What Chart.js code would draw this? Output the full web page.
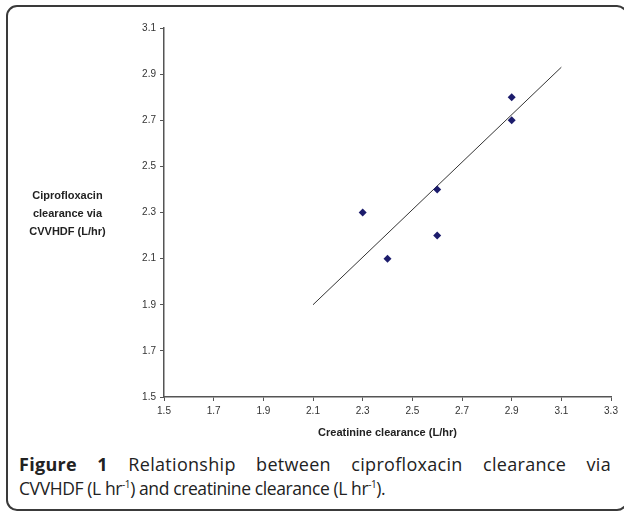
<!DOCTYPE html>
<html>
<head>
<meta charset="utf-8">
<script src="https://cdn.jsdelivr.net/npm/chart.js@4"></script>
<style>
    body { margin: 0; background: #fff; width: 624px; height: 516px; overflow: hidden; position: relative; }
    #frame { position: absolute; left: 6px; top: 5px; width: 622px; height: 506px; border: 2px solid #3a3a3a; border-radius: 11px; box-sizing: border-box; }
    #chartWrap { position: absolute; left: 0; top: 0; width: 624px; height: 445px; }
    #yTitle { position: absolute; left: 10px; top: 186px; width: 115px; text-align: center; font: bold 11px Arial, "Liberation Sans", sans-serif; line-height: 18px; color: #222; }
    #caption { position: absolute; left: 19px; top: 452px; width: 592px; font-family: "Open Sans", sans-serif; font-size: 18px; line-height: 24px; color: #222; }
    #caption .l1 { text-align: justify; text-align-last: justify; letter-spacing: 0.3px; }
    #caption .l2 { text-align: left; font-size: 17.5px; letter-spacing: -0.4px; }
    #caption b { font-weight: 700; }
    #caption sup { font-size: 10px; line-height: 0; }
</style>
</head>
<body>
<div id="frame"></div>
<div id="chartWrap"><canvas id="scatterChart" width="624" height="445"></canvas></div>
<div id="yTitle">Ciprofloxacin<br>clearance via<br>CVVHDF (L/hr)</div>
<div id="caption">
    <div class="l1"><b>Figure 1</b> Relationship between ciprofloxacin clearance via</div>
    <div class="l2">CVVHDF (L hr<sup>-1</sup>) and creatinine clearance (L hr<sup>-1</sup>).</div>
</div>
<script>
// measured points (creatinine clearance vs ciprofloxacin clearance, L/hr)
const creatinineCl = [2.3, 2.4, 2.6, 2.6, 2.9, 2.9];
const ciproCl = [2.3, 2.1, 2.4, 2.2, 2.8, 2.7];
// trend line end points
const trendX = [2.1, 3.1];
const trendY = [1.9, 2.93];

const xTitle = 'Creatinine clearance (L/hr)';
const tickFont = { family: 'Arial, "Liberation Sans", sans-serif', size: 10 };

const points = creatinineCl.map((x, i) => ({ x: x, y: ciproCl[i] }));
const trend = trendX.map((x, i) => ({ x: x, y: trendY[i] }));

const ctx = document.getElementById('scatterChart').getContext('2d');
new Chart(ctx, {
    type: 'scatter',
    data: {
        datasets: [{
            label: 'Measured',
            data: points,
            pointStyle: 'rectRot',
            pointRadius: 4,
            backgroundColor: '#1c1c6c',
            borderColor: '#1c1c6c',
            borderWidth: 0
        }, {
            type: 'line',
            label: 'Trend',
            data: trend,
            borderColor: '#333',
            borderWidth: 1,
            pointRadius: 0,
            fill: false
        }]
    },
    options: {
        responsive: false,
        animation: false,
        layout: { padding: { top: 28, right: 13, left: 0, bottom: 0 } },
        plugins: {
            legend: { display: false },
            tooltip: { enabled: false }
        },
        scales: {
            x: {
                type: 'linear',
                min: 1.5,
                max: 3.3,
                afterFit: (scale) => { scale.height = 48; },
                ticks: {
                    stepSize: 0.2,
                    padding: 4,
                    color: '#333',
                    font: tickFont,
                    maxRotation: 0,
                    callback: (v) => v.toFixed(1)
                },
                grid: { drawOnChartArea: false, drawTicks: true, tickLength: 4, color: '#555' },
                border: { display: true, color: '#555', width: 1.5 },
                title: {
                    display: true,
                    text: xTitle,
                    color: '#222',
                    font: { family: 'Arial, "Liberation Sans", sans-serif', size: 11, weight: 'bold' },
                    padding: { top: 0, bottom: 5 }
                }
            },
            y: {
                type: 'linear',
                min: 1.5,
                max: 3.1,
                afterFit: (scale) => { scale.width = 164; },
                ticks: {
                    stepSize: 0.2,
                    padding: 4,
                    color: '#333',
                    font: tickFont,
                    callback: (v) => v.toFixed(1)
                },
                grid: { drawOnChartArea: false, drawTicks: true, tickLength: 4, color: '#555' },
                border: { display: true, color: '#555', width: 1.5 }
            }
        }
    }
});
</script>
</body>
</html>
